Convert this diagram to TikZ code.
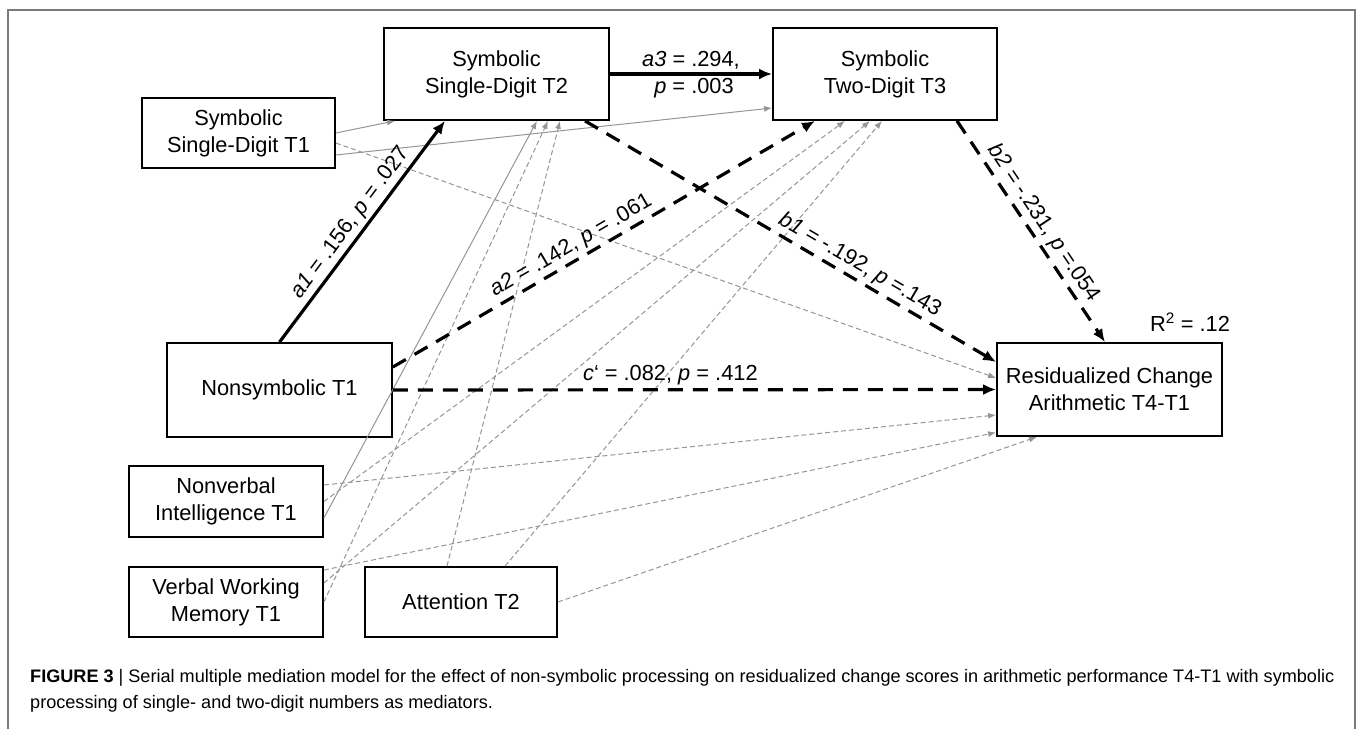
\documentclass[tikz,border=0pt]{standalone}
\usepackage{fontspec}
\setmainfont{Liberation Sans}
\usepackage{tikz}
\usetikzlibrary{arrows.meta}

\definecolor{ctrlgray}{HTML}{959595}
\definecolor{framegray}{HTML}{7A7A7A}

\begin{document}
\begin{tikzpicture}[x=1pt,y=-1pt,font=\fontsize{21.8}{27}\selectfont,
  box/.style n args={2}{draw,line width=1.8pt,minimum width=#1,minimum height=#2,align=center,inner sep=0pt},
  effect/.style={line width=3.2pt,-{Latex[length=13pt,width=11pt]}},
  nsdash/.style={effect,dash pattern=on 15pt off 10pt},
  ctrl/.style={ctrlgray,line width=1pt,-{Latex[length=8pt,width=6pt]}},
  ctrldash/.style={ctrl,dash pattern=on 5pt off 3pt},
  lbl/.style={inner sep=3pt}]
\useasboundingbox (0,0) rectangle (1358,729);
\draw[framegray,line width=2pt] (8,729) -- (8,10) -- (1355,10) -- (1355,729);

% variables
\node[box={193pt}{70pt}] (ssdone) at (238.5,133) {Symbolic\\Single-Digit T1};
\node[box={225pt}{92pt}] (ssdtwo) at (496.5,74) {Symbolic\\Single-Digit T2};
\node[box={224pt}{92pt}] (tdthree) at (885,74) {Symbolic\\Two-Digit T3};
\node[box={225pt}{93pt}] (res) at (1109.5,389.5) {Residualized Change\\Arithmetic T4-T1};
\node[box={225pt}{94pt}] (nonsym) at (279.5,390) {Nonsymbolic T1};
\node[box={194pt}{71pt}] (nonverb) at (226,501.5) {Nonverbal\\Intelligence T1};
\node[box={194pt}{70pt}] (vwm) at (226,602) {Verbal Working\\Memory T1};
\node[box={192pt}{70pt}] (attn) at (461,602) {Attention T2};
\node (rsq) at (1190,322) {R\textsuperscript{2} = .12};

% control paths
\draw[ctrl] (ssdone.east) -- ([xshift=-101.5pt]ssdtwo.south);
\draw[ctrl] ([yshift=-22pt]ssdone.east) -- ([yshift=-34pt]tdthree.west);
\draw[ctrl] ([yshift=-16.5pt]nonverb.east) -- ([xshift=40.5pt]ssdtwo.south);
\foreach \src/\sy/\dst/\anc/\tx/\ty in {ssdone/-10/res/west/0/11.5,
  nonverb/16.5/res/west/0/-25.5,nonverb/0/tdthree/south/-40/0,
  vwm/32/res/west/0/-43,vwm/19/tdthree/south/-15/0,vwm/0/ssdtwo/south/51.5/0} {
  \draw[ctrldash] ([yshift=\sy pt]\src.east) -- ([xshift=\tx pt,yshift=\ty pt]\dst.\anc);
}
\draw[ctrldash] ([xshift=-14pt]attn.north) -- ([xshift=63.5pt]ssdtwo.south);
\draw[ctrldash] ([xshift=44pt]attn.north) -- ([xshift=-3pt]tdthree.south);
\draw[ctrldash] (attn.east) -- ([xshift=-72.5pt]res.south);

% model paths
\draw[effect] (nonsym.north) -- node[lbl,above,sloped] {\textit{a1} = .156, \textit{p} = .027} ([xshift=-51.5pt]ssdtwo.south);
\draw[effect] (ssdtwo.east) -- (tdthree.west)
  node[midway,above,lbl] {\textit{a3} = .294,}
  node[midway,below,lbl,xshift=3pt] {\textit{p} = .003};
\draw[nsdash] ([yshift=23pt]nonsym.east) -- node[lbl,pos=0.44,above,sloped] {\textit{a2} = .142, \textit{p} = .061} ([xshift=-70pt]tdthree.south);
\draw[nsdash] ([xshift=88.5pt]ssdtwo.south) -- node[lbl,pos=0.65,above,sloped] {\textit{b1} = -.192, \textit{p} =.143} ([yshift=27.5pt]res.west);
\draw[nsdash] ([xshift=72pt]tdthree.south) -- node[lbl,pos=0.5,above,sloped] {\textit{b2} = -.231, \textit{p} =.054} ([xshift=-4.5pt]res.north);
\draw[nsdash] (nonsym.east) -- node[lbl,pos=0.46,above] {\textit{c}‘ = .082, \textit{p} = .412} (res.west);

% caption
\node[anchor=north west,align=left,inner sep=0pt,font=\fontsize{18.1}{26}\selectfont] (cap) at (30,669)
  {\textbf{FIGURE 3} | Serial multiple mediation model for the effect of non-symbolic processing on residualized change scores in arithmetic performance T4-T1 with symbolic\\
   processing of single- and two-digit numbers as mediators.};
\end{tikzpicture}
\end{document}
